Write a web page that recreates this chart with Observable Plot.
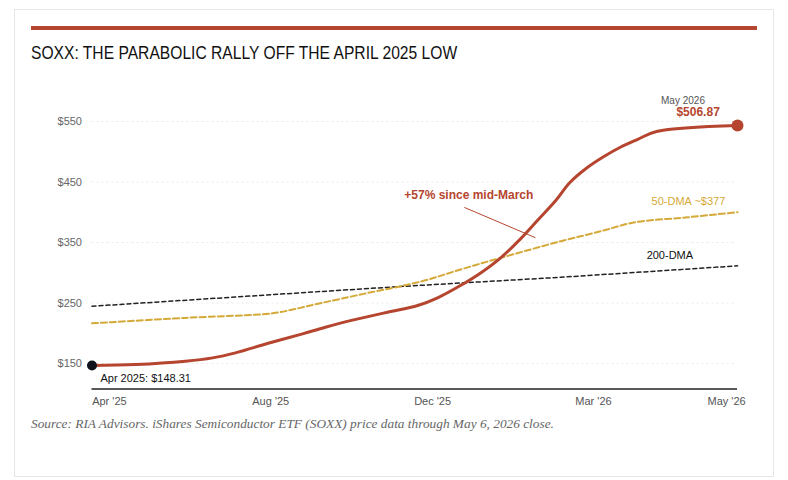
<!DOCTYPE html>
<html><head><meta charset="utf-8">
<script src="https://cdn.jsdelivr.net/npm/d3@7"></script>
<script src="https://cdn.jsdelivr.net/npm/@observablehq/plot@0.6"></script>
<style>
html,body{margin:0;padding:0;background:#fff}
#card{position:absolute;left:14px;top:9px;width:758px;height:466px;border:1px solid #e6e6e6;box-sizing:content-box}
#bar{position:absolute;left:31px;top:26px;width:726px;height:4px;background:#b5452f}
#title{position:absolute;left:31px;top:43px;font:17.5px "Liberation Sans",sans-serif;color:#111;white-space:nowrap;transform:scaleX(.893);transform-origin:left center}
#chart{position:absolute;left:31px;top:75px}
#source{position:absolute;left:31px;top:416px;font:italic 13.33px "Liberation Serif",serif;color:#666;white-space:nowrap}
svg{overflow:visible}
</style></head><body>
<div id="card"></div><div id="bar"></div>
<div id="title">SOXX: THE PARABOLIC RALLY OFF THE APRIL 2025 LOW</div>
<div id="chart"></div>
<div id="source">Source: RIA Advisors. iShares Semiconductor ETF (SOXX) price data through May 6, 2026 close.</div>
<script>
const priceMonths=[0,.876,1.88,2.43,2.89,3.55,4.24,4.7,5.27,5.95,6.56,6.96,7.42,7.82,8.23,8.63,8.97,9.34,9.62,9.97,10.31,10.64,10.98,11.37,13];
const priceValues=[146.7,148.3,153.8,159.4,167.7,183.6,199.1,210,222.2,234.8,245.9,258.6,278.9,299.3,324.7,356.1,386.4,419.4,448.7,473.5,492.1,507.5,520.2,533.5,543.4];
const dma50Months=[0,1.88,3.64,4.04,4.6,5.47,6.62,7.42,8.23,9.44,10.3,10.91,12,13];
const dma50Values=[216.6,225.5,233.1,239.3,249.7,265.2,285.5,305.4,324.7,352.1,369.8,383.1,391.8,400.1];
const dma200Months=[0,4.6,6.21,7.48,9.44,13];
const dma200Values=[244.7,269,277.3,283.4,292.6,311.5];
const yTicks=[150,250,350,450,550];
const xTickPos=[0.35,3.6,6.86,10.1,12.78];
const xTickLabels=["Apr '25","Aug '25","Dec '25","Mar '26","May '26"];
const zip=(a,b)=>a.map((m,i)=>({m,v:b[i]}));
const price=zip(priceMonths,priceValues), d50=zip(dma50Months,dma50Values), d200=zip(dma200Months,dma200Values);
const RED="#b5452f", GOLD="#d4a938";
const FONT='"Liberation Sans",Arial,sans-serif';
const note=(text,m,v,o)=>Plot.text([text],{x:()=>m,y:()=>v,text:d=>d,fontFamily:FONT,...o});
const chart=Plot.plot({
  width:726,height:335,marginLeft:60.5,marginRight:20,marginTop:0,marginBottom:21.5,
  style:{fontFamily:FONT,background:"transparent"},
  x:{type:"linear",domain:[0,13],axis:null},
  y:{domain:[108,626],axis:null},
  marks:[
    Plot.ruleY(yTicks,{x1:0,x2:12.95,stroke:"#e9e9e9",strokeWidth:1,strokeDasharray:"2,3"}),
    Plot.axisY({ticks:yTicks,tickFormat:d=>"$"+d,tickSize:0,tickPadding:10,anchor:"left",label:null,fontSize:11,color:"#666"}),
    Plot.axisX({ticks:xTickPos,tickFormat:(d,i)=>xTickLabels[i],tickSize:0,tickPadding:8,anchor:"bottom",label:null,fontSize:11,color:"#555"}),
    Plot.ruleY([108],{x1:0,x2:13,stroke:"#222",strokeWidth:1.6}),
    Plot.line(d200,{x:"m",y:"v",stroke:"#222",strokeWidth:1.5,strokeDasharray:"4,3",curve:"linear"}),
    Plot.line(d50,{x:"m",y:"v",stroke:GOLD,strokeWidth:2,strokeDasharray:"6,3",curve:"catmull-rom"}),
    Plot.line(price,{x:"m",y:"v",stroke:RED,strokeWidth:3,curve:"catmull-rom"}),
    Plot.link([0],{x1:()=>7.5,y1:()=>408,x2:()=>8.93,y2:()=>358,stroke:RED,strokeWidth:1}),
    Plot.dot([price[0]],{x:"m",y:"v",r:5,fill:"#10131c",stroke:"none"}),
    Plot.dot([price[price.length-1]],{x:"m",y:"v",r:6,fill:RED,stroke:"none"}),
    note("+57% since mid-March",6.29,427.7,{textAnchor:"start",fill:RED,fontWeight:"bold",fontSize:12}),
    note("50-DMA ~$377",11.27,418,{textAnchor:"start",fill:GOLD,fontSize:11}),
    note("200-DMA",11.17,328,{textAnchor:"start",fill:"#111",fontSize:11}),
    note("May 2026",11.46,585,{textAnchor:"start",fill:"#555",fontSize:10}),
    note("$506.87",11.77,565.7,{textAnchor:"start",fill:RED,fontWeight:"bold",fontSize:12}),
    note("Apr 2025: $148.31",0.17,126,{textAnchor:"start",fill:"#111",fontSize:11})
  ]
});
document.getElementById("chart").append(chart);
</script></body></html>
